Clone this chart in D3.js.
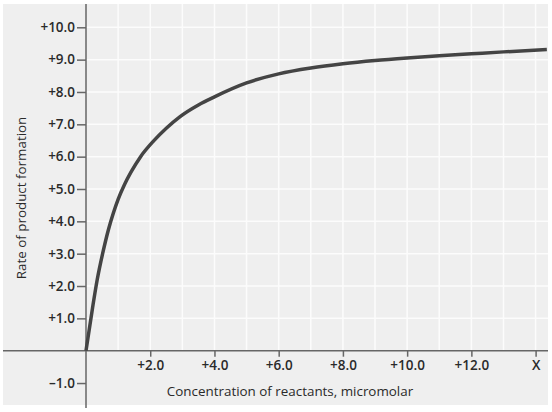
<!DOCTYPE html>
<meta charset="utf-8">
<style>

    body {
        margin: 0;
        background: #fff;
    }

    svg text {
        font-family: "Open Sans", sans-serif;
        fill: #2a2a2a;
    }

    .axis path,
    .axis line {
        stroke: #666;
        stroke-width: 1.5px;
    }

    .curve {
        fill: none;
        stroke: #444;
        stroke-width: 3.5px;
    }

</style>
<svg></svg>
<script src="https://cdn.jsdelivr.net/npm/d3@7"></script>
<script>

    // values
    var concentration = [0, 0.2, 0.35, 0.54, 0.7, 0.85, 1.0, 1.2, 1.4, 1.7, 2.1, 2.5, 2.93, 3.5, 4.0, 5.0, 6.0, 7.0, 8.0, 9.0, 10.0, 11.0, 12.0, 13.0, 14.35];
    var rate = [0, 1.3, 2.2, 3.1, 3.75, 4.25, 4.68, 5.14, 5.52, 6.0, 6.48, 6.88, 7.24, 7.6, 7.85, 8.28, 8.56, 8.74, 8.87, 8.97, 9.05, 9.12, 9.18, 9.24, 9.31];

    var xTicks = [2, 4, 6, 8, 10, 12, 14];
    var xTickLabels = ["+2.0", "+4.0", "+6.0", "+8.0", "+10.0", "+12.0", "X"];
    var yTicks = [-1, 1, 2, 3, 4, 5, 6, 7, 8, 9, 10];
    var yTickLabels = ["\u20131.0", "+1.0", "+2.0", "+3.0", "+4.0", "+5.0", "+6.0", "+7.0", "+8.0", "+9.0", "+10.0"];
    var gridX = d3.range(1, 15);
    var gridY = d3.range(1, 11);

    var width = 552,
        height = 412;

    var x = d3.scaleLinear().domain([0, 14]).range([86, 535.6]);
    var y = d3.scaleLinear().domain([0, 10]).range([350.7, 27.3]);

    var panelLeft = 3, panelRight = 548, panelTop = 4, panelBottom = 405;

    var svg = d3.select("svg")
        .attr("width", width)
        .attr("height", height);

    svg.append("rect")
        .attr("x", panelLeft)
        .attr("y", panelTop)
        .attr("width", panelRight - panelLeft)
        .attr("height", panelBottom - panelTop)
        .attr("fill", "#efefef");

    var grid = svg.append("g")
        .attr("stroke", "#fcfcfc")
        .attr("stroke-width", 1.5);

    grid.selectAll(".gx")
        .data(gridX)
        .enter().append("line")
        .attr("x1", function(d) { return x(d); })
        .attr("x2", function(d) { return x(d); })
        .attr("y1", panelTop)
        .attr("y2", y(0));

    grid.selectAll(".gy")
        .data(gridY)
        .enter().append("line")
        .attr("x1", x(0))
        .attr("x2", panelRight)
        .attr("y1", function(d) { return y(d); })
        .attr("y2", function(d) { return y(d); });

    // x axis
    var xAxis = d3.axisBottom(x)
        .tickValues(xTicks)
        .tickFormat(function(d, i) { return xTickLabels[i]; })
        .tickSize(6)
        .tickPadding(4)
        .tickSizeOuter(0);

    var gx = svg.append("g")
        .attr("class", "axis")
        .attr("transform", "translate(0," + y(0) + ")")
        .call(xAxis);
    gx.select(".domain").attr("d", "M" + panelLeft + ",0H" + panelRight);

    // y axis
    var yAxis = d3.axisLeft(y)
        .tickValues(yTicks)
        .tickFormat(function(d, i) { return yTickLabels[i]; })
        .tickSize(9)
        .tickPadding(2)
        .tickSizeOuter(0);

    var gy = svg.append("g")
        .attr("class", "axis")
        .attr("transform", "translate(" + x(0) + ",0)")
        .call(yAxis);
    gy.select(".domain").attr("d", "M0," + panelTop + "V408");

    svg.selectAll(".axis text")
        .attr("font-family", null)
        .style("font-size", "13.5px")
        .style("font-weight", 600)
        .attr("fill", "#333");

    // curve
    var points = concentration.map(function(c, i) { return [c, rate[i]]; });

    var line = d3.line()
        .x(function(d) { return x(d[0]); })
        .y(function(d) { return y(d[1]); })
        .curve(d3.curveMonotoneX);

    svg.append("path")
        .datum(points)
        .attr("class", "curve")
        .attr("d", line);

    // titles
    svg.append("text")
        .attr("x", 290)
        .attr("y", 396)
        .attr("text-anchor", "middle")
        .style("font-size", "13.4px")
        .text("Concentration of reactants, micromolar");

    svg.append("text")
        .attr("transform", "translate(26,198) rotate(-90)")
        .attr("text-anchor", "middle")
        .style("font-size", "13.4px")
        .text("Rate of product formation");

</script>
